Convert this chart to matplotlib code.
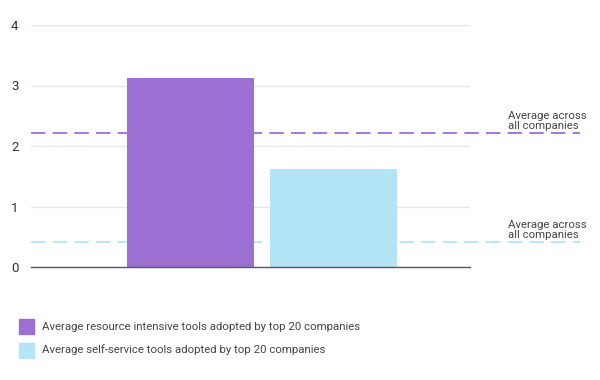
import matplotlib
matplotlib.use("Agg")
import matplotlib.pyplot as plt
from matplotlib.patches import Rectangle

plt.rcParams['font.family'] = ['Roboto', 'DejaVu Sans']

categories = ["Resource intensive", "Self-service"]
values = [3.12, 1.62]
averages = [2.21, 0.41]
colors = ["#9c70d3", "#b3e5f7"]
legend_labels = ["Average resource intensive tools adopted by top 20 companies",
                 "Average self-service tools adopted by top 20 companies"]
avg_label = "Average across\nall companies"
yticks = [0, 1, 2, 3, 4]

fig = plt.figure(figsize=(6, 3.8), dpi=100)
ax = fig.add_axes([31/600, 1-267/380, 439/600, 242/380])

x = list(range(len(categories)))
# dashed average lines, extending beyond axes
for avg, c in zip(averages, colors):
    ax.plot([-1.115, 2.724], [avg, avg], color=c, lw=1.3, dashes=(8, 4),
            clip_on=False, zorder=1)

ax.bar(x, values, width=0.888, color=colors, zorder=2)

ax.set_xlim(-1.115, 1.955)
ax.set_ylim(0, 4)
ax.set_yticks(yticks)
ax.set_yticklabels([str(t) for t in yticks], fontsize=9.5, color="#333333")
ax.tick_params(axis='y', length=0, pad=9)
ax.set_xticks([])
ax.yaxis.grid(True, color="#e6e6ea", lw=1, zorder=0)
ax.set_axisbelow(True)
for s in ["top", "right", "left"]:
    ax.spines[s].set_visible(False)
ax.spines["bottom"].set_color("#5a5566")
ax.spines["bottom"].set_linewidth(1)
ax.spines["bottom"].set_zorder(3)

for avg in averages:
    ax.text(2.22, avg + 0.04, avg_label, fontsize=8.2, color="#444444",
            ha='left', va='bottom', linespacing=1.0, clip_on=False)

# legend
for i, (lab, c) in enumerate(zip(legend_labels, colors)):
    ytop = 319 + i * 23.5
    fig.patches.append(Rectangle((19/600, 1-(ytop+15)/380), 15/600, 15/380,
                                 transform=fig.transFigure, color=c))
    fig.text(42/600, 1-(ytop+7.5)/380, lab, fontsize=8.2, color="#444444",
             ha='left', va='center')

fig.savefig("out.png", dpi=100)
